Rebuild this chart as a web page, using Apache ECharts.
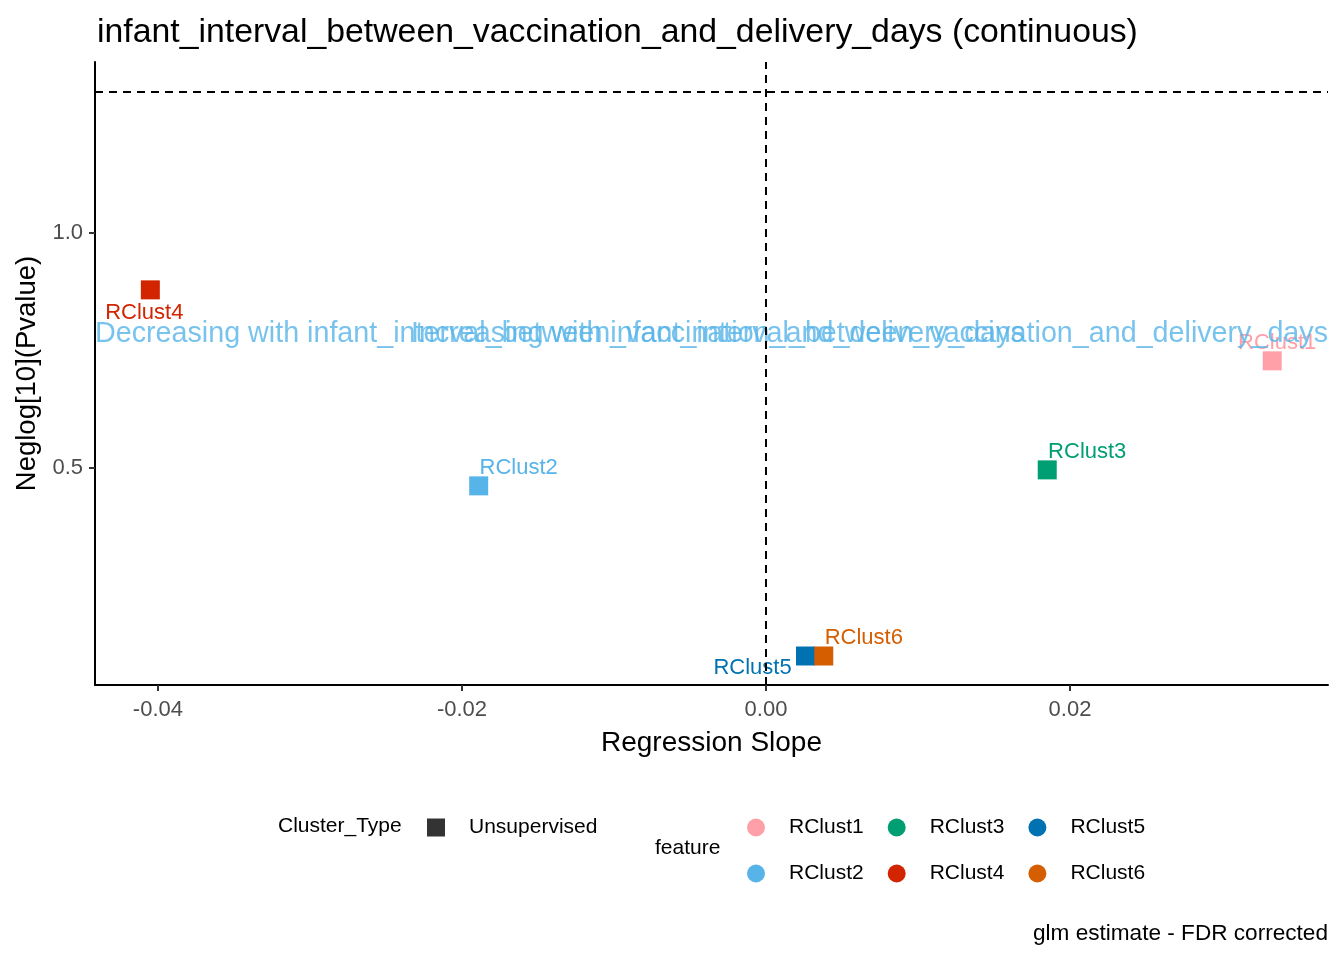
<!DOCTYPE html>
<html>
<head>
<meta charset="utf-8">
<title>infant_interval_between_vaccination_and_delivery_days</title>
<script src="https://cdn.jsdelivr.net/npm/echarts@6/dist/echarts.min.js"></script>
<style>
  html, body { margin: 0; padding: 0; background: #fff; }
  #main { width: 1344px; height: 960px; }
</style>
</head>
<body>
<div id="main"></div>
<script>
// data
var features = ['RClust1', 'RClust2', 'RClust3', 'RClust4', 'RClust5', 'RClust6'];
var slopes = [0.0333, -0.0189, 0.0185, -0.0405, 0.0026, 0.0038];
var neglogP = [0.728, 0.462, 0.496, 0.879, 0.100, 0.100];
var featureColors = ['#FFA0A8', '#56B4E9', '#009E73', '#D32400', '#0072B2', '#D55E00'];
// where each point's text label sits, relative to the point (ggrepel-like)
var labelOffsets = [[5, -18], [40, -18], [40, -18], [-6, 23], [-53, 12], [40, -18]];

var xTicks = [-0.04, -0.02, 0.00, 0.02];
var yTicks = [0.5, 1.0];
var xRange = [-0.04414, 0.03697];
var yRange = [0.0383, 1.3638];
var pCutoff = 1.301; // -log10(0.05)
var annotY = 0.785;
var annotText = ['Decreasing with infant_interval_between_vaccination_and_delivery_days',
                 'Increasing with infant_interval_between_vaccination_and_delivery_days'];

var FONT = 'Liberation Sans, Arial, sans-serif';

var myChart = echarts.init(document.getElementById('main'));

var series = [];
for (var i = 0; i < features.length; i++) {
  series.push({
    name: features[i],
    type: 'scatter',
    symbol: 'rect',
    symbolSize: 19,
    itemStyle: { color: featureColors[i], opacity: 1 },
    label: {
      show: true,
      position: 'inside',
      offset: labelOffsets[i],
      formatter: features[i],
      color: featureColors[i],
      fontFamily: FONT,
      fontSize: 22
    },
    emphasis: { disabled: true },
    z: 3,
    data: [[slopes[i], neglogP[i]]]
  });
}

// legend-only series for the shape legend, also carries the reference lines
series.push({
  name: 'Unsupervised',
  type: 'scatter',
  symbol: 'rect',
  itemStyle: { color: '#000' },
  data: [],
  markLine: {
    silent: true,
    symbol: 'none',
    label: { show: false },
    lineStyle: { color: '#000', type: [8, 6], width: 2 },
    data: [{ yAxis: pCutoff }, { xAxis: 0 }]
  }
});

// the two direction annotations, pinned to the panel edges
series.push({
  name: 'annot',
  type: 'scatter',
  symbolSize: 0,
  silent: true,
  z: 4,
  data: [
    { value: [xRange[0], annotY], label: { position: 'right', align: 'left', formatter: annotText[0] } },
    { value: [xRange[1], annotY], label: { position: 'left', align: 'right', formatter: annotText[1] } }
  ],
  label: {
    show: true,
    distance: 0,
    color: '#56B4E9',
    fontFamily: FONT,
    fontSize: 28.7
  }
});

var legendText = { fontFamily: FONT, fontSize: 21, color: '#000', padding: [0, 0, 0, 19] };

var option = {
  backgroundColor: '#fff',
  animation: false,
  title: {
    text: 'infant_interval_between_vaccination_and_delivery_days (continuous)',
    left: 92,
    top: 11,
    textStyle: { fontFamily: FONT, fontSize: 33.8, fontWeight: 'normal', color: '#000' }
  },
  grid: { left: 95, right: 16, top: 62, bottom: 275, containLabel: false },
  xAxis: {
    type: 'value',
    min: xRange[0],
    max: xRange[1],
    name: 'Regression Slope',
    nameLocation: 'middle',
    nameGap: 44,
    nameTextStyle: { fontFamily: FONT, fontSize: 28, color: '#000' },
    axisLine: { show: true, onZero: false, lineStyle: { color: '#000', width: 2 } },
    axisTick: { show: true, length: 6, customValues: xTicks, lineStyle: { color: '#333', width: 2 } },
    axisLabel: {
      customValues: xTicks,
      margin: 14,
      fontFamily: FONT,
      fontSize: 22,
      color: '#4D4D4D',
      formatter: function(v) { return v.toFixed(2); }
    },
    splitLine: { show: false }
  },
  yAxis: {
    type: 'value',
    min: yRange[0],
    max: yRange[1],
    name: 'Neglog[10](Pvalue)',
    nameLocation: 'middle',
    nameGap: 54,
    nameTextStyle: { fontFamily: FONT, fontSize: 27.5, color: '#000' },
    axisLine: { show: true, onZero: false, lineStyle: { color: '#000', width: 2 } },
    axisTick: { show: true, length: 6, customValues: yTicks, lineStyle: { color: '#333', width: 2 } },
    axisLabel: {
      customValues: yTicks,
      margin: 12,
      fontFamily: FONT,
      fontSize: 22,
      color: '#4D4D4D',
      formatter: function(v) { return v.toFixed(1); }
    },
    splitLine: { show: false }
  },
  legend: [{
    data: [{ name: 'Unsupervised', icon: 'rect' }],
    left: 422,
    top: 812,
    itemWidth: 18,
    itemHeight: 18,
    selectedMode: false,
    textStyle: legendText
  }, {
    data: ['RClust1', 'RClust3', 'RClust5'],
    icon: 'circle',
    left: 742,
    top: 812,
    itemWidth: 18,
    itemHeight: 18,
    itemGap: 24,
    selectedMode: false,
    textStyle: legendText
  }, {
    data: ['RClust2', 'RClust4', 'RClust6'],
    icon: 'circle',
    left: 742,
    top: 858,
    itemWidth: 18,
    itemHeight: 18,
    itemGap: 24,
    selectedMode: false,
    textStyle: legendText
  }],
  graphic: [{
    type: 'text',
    left: 278,
    top: 816,
    style: { text: 'Cluster_Type', font: '21px ' + FONT, fill: '#000' }
  }, {
    type: 'text',
    left: 655,
    top: 838,
    style: { text: 'feature', font: '21px ' + FONT, fill: '#000' }
  }, {
    type: 'text',
    right: 16,
    top: 922,
    style: { text: 'glm estimate - FDR corrected', font: '22.6px ' + FONT, fill: '#000' }
  }],
  series: series
};

myChart.setOption(option);
</script>
</body>
</html>
